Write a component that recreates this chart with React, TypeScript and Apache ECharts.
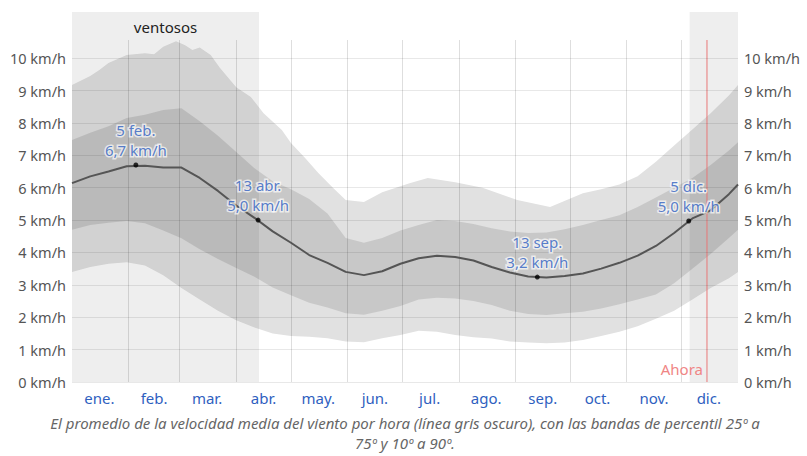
import React, { useEffect, useRef } from "react";
import * as echarts from "echarts";

// ---- data (day of year 0..365, km/h) ----
const days = [0, 10, 20, 30, 40, 50, 60, 70, 80, 90, 100, 110, 120, 130, 140, 150, 160, 170, 180, 190, 200, 210, 220, 230, 240, 250, 260, 270, 280, 290, 300, 310, 320, 330, 340, 350, 360, 365];
const median = [6.14, 6.35, 6.5, 6.66, 6.68, 6.62, 6.62, 6.3, 5.9, 5.45, 5.07, 4.65, 4.3, 3.92, 3.68, 3.4, 3.3, 3.42, 3.65, 3.82, 3.9, 3.86, 3.75, 3.55, 3.38, 3.26, 3.23, 3.27, 3.35, 3.5, 3.68, 3.9, 4.2, 4.6, 5.05, 5.3, 5.8, 6.1];
const p75 = [7.47, 7.7, 7.9, 8.15, 8.25, 8.4, 8.45, 8.05, 7.6, 7.1, 6.6, 6.2, 5.95, 5.65, 5.2, 4.45, 4.3, 4.45, 4.68, 4.85, 5.0, 4.97, 4.88, 4.75, 4.65, 4.6, 4.62, 4.72, 4.85, 5.0, 5.15, 5.4, 5.7, 6.0, 6.3, 6.7, 7.15, 7.4];
const p25 = [4.7, 4.85, 4.92, 4.97, 4.9, 4.68, 4.44, 4.1, 3.8, 3.52, 3.25, 2.92, 2.68, 2.45, 2.3, 2.12, 2.08, 2.2, 2.35, 2.55, 2.6, 2.58, 2.5, 2.38, 2.2, 2.1, 2.07, 2.12, 2.17, 2.27, 2.4, 2.55, 2.7, 3.05, 3.5, 3.95, 4.45, 4.7];
const p10 = [3.4, 3.55, 3.65, 3.7, 3.6, 3.3, 2.9, 2.55, 2.2, 1.91, 1.68, 1.5, 1.42, 1.4, 1.35, 1.25, 1.23, 1.35, 1.45, 1.58, 1.55, 1.45, 1.38, 1.34, 1.25, 1.22, 1.2, 1.22, 1.3, 1.42, 1.55, 1.72, 1.95, 2.2, 2.55, 2.9, 3.2, 3.4];
const p90Days = [0, 10, 15, 20, 30, 40, 45, 50, 57, 62, 66, 70, 76, 81, 90, 98, 105, 115, 120, 128, 135, 143, 150, 160, 170, 185, 195, 210, 225, 244, 262, 280, 290, 300, 310, 320, 330, 340, 350, 360, 365];
const p90 = [9.17, 9.45, 9.63, 9.85, 10.1, 10.15, 10.12, 10.35, 10.52, 10.4, 10.25, 10.33, 10.1, 9.7, 9.1, 8.8, 8.3, 7.78, 7.38, 6.9, 6.45, 6.0, 5.62, 5.56, 5.86, 6.14, 6.3, 6.17, 6.0, 5.62, 5.4, 5.83, 5.95, 6.1, 6.35, 6.8, 7.3, 7.8, 8.3, 8.85, 9.17];

const monthStarts = [31, 59, 90, 120, 151, 181, 212, 243, 273, 304, 334];
const monthMids = [15, 45, 74, 105, 135, 166, 196, 227, 258, 288, 319, 349];
const monthLabels = ["ene.", "feb.", "mar.", "abr.", "may.", "jun.", "jul.", "ago.", "sep.", "oct.", "nov.", "dic."];

const extremeDays = [35, 102, 255, 338];
const extremeValues = [6.7, 5.0, 3.24, 4.97];
const extremeDates = ["5 feb.", "13 abr.", "13 sep.", "5 dic."];

const windyStart = 0;
const windyEnd = 102.5;
const nowBandStart = 338.5;
const nowDay = 348;
const yMax = 10.56;

const caption1 = "El promedio de la velocidad media del viento por hora (línea gris oscuro), con las bandas de percentil 25º a";
const caption2 = "75º y 10º a 90º.";

const FONT = "'Noto Sans', 'DejaVu Sans', sans-serif";
const BLUE = "#2f5fc0";
const NOW_RED = "#e87878";

const pairs = (xs: number[], ys: number[]) => xs.map((x, i) => [x, ys[i]]);

const band = (name: string, xs: number[], ys: number[], color: string) => ({
  name,
  type: "line",
  data: pairs(xs, ys),
  symbol: "none",
  lineStyle: { width: 0 },
  areaStyle: { color, opacity: 1, origin: "start" },
  z: 1,
  silent: true,
});

export default function App() {
  const ref = useRef<HTMLDivElement>(null);
  useEffect(() => {
    if (!ref.current) return;
    const chart = echarts.init(ref.current, null, { renderer: "svg" });
    const yLabel = { formatter: "{value} km/h", color: "#555", fontSize: 14.5, margin: 6, showMaxLabel: false };
    const option: any = {
      animation: false,
      textStyle: { fontFamily: FONT },
      grid: { left: 72, right: 69, top: 40, bottom: 74, containLabel: false, outerBoundsMode: "none" },
      xAxis: {
        type: "value",
        min: 0,
        max: 365,
        z: 5,
        axisLine: { show: false },
        axisTick: { show: false, customValues: monthStarts },
        splitLine: { show: true, lineStyle: { color: "rgba(0,0,0,0.13)", width: 1 } },
        axisLabel: {
          customValues: monthMids,
          formatter: (v: number) => monthLabels[monthMids.indexOf(Math.round(v))] ?? "",
          color: BLUE,
          fontSize: 15,
          margin: 8,
        },
      },
      yAxis: [
        {
          type: "value",
          min: 0,
          max: yMax,
          interval: 1,
          z: 5,
          axisLine: { show: false },
          axisTick: { show: false },
          splitLine: { show: true, showMaxLine: false, lineStyle: { color: "rgba(0,0,0,0.09)", width: 1 } },
          axisLabel: yLabel,
        },
        {
          type: "value",
          min: 0,
          max: yMax,
          interval: 1,
          position: "right",
          axisLine: { show: false },
          axisTick: { show: false },
          splitLine: { show: false },
          axisLabel: yLabel,
        },
      ],
      series: [
        band("p90", p90Days, p90, "#e1e1e1"),
        band("p75", days, p75, "#c8c8c8"),
        band("p25", days, p25, "#e1e1e1"),
        band("p10", days, p10, "#ffffff"),
        {
          name: "overlay",
          type: "line",
          data: [],
          z: 3,
          silent: true,
          markArea: {
            silent: true,
            z: 3,
            itemStyle: { color: "rgba(0,0,0,0.067)" },
            data: [
              [{ xAxis: windyStart }, { xAxis: windyEnd }],
              [{ xAxis: nowBandStart }, { xAxis: 365 }],
            ],
          },
        },
        {
          name: "now",
          type: "line",
          data: [[nowDay, 0], [nowDay, yMax]],
          symbol: "none",
          z: 4,
          silent: true,
          lineStyle: { color: NOW_RED, width: 1 },
        },
        {
          name: "median",
          type: "line",
          data: pairs(days, median),
          symbol: "none",
          lineStyle: { color: "#555", width: 2 },
          z: 6,
        },
        {
          name: "extremes",
          type: "scatter",
          data: pairs(extremeDays, extremeValues),
          symbolSize: 5,
          itemStyle: { color: "#000" },
          z: 7,
          label: {
            show: true,
            position: "top",
            distance: 3,
            formatter: (p: any) =>
              `${extremeDates[p.dataIndex]}\n${extremeValues[p.dataIndex].toFixed(1).replace(".", ",")} km/h`,
            color: BLUE,
            fontSize: 15,
            lineHeight: 20,
            textBorderColor: "rgba(255,255,255,0.85)",
            textBorderWidth: 3,
            fontFamily: FONT,
          },
        },
      ],
    };
    chart.setOption(option);

    const px = (d: number) => chart.convertToPixel({ xAxisIndex: 0 }, d) as number;
    const py = (v: number) => chart.convertToPixel({ yAxisIndex: 0 }, v) as number;
    const top = py(yMax);
    const bottom = py(0);
    const wx0 = px(windyStart);
    const wx1 = px(windyEnd);
    const nx0 = px(nowBandStart);
    const nx1 = px(365);
    const nowX = px(nowDay);

    chart.setOption({
      graphic: [
        { type: "rect", shape: { x: wx0, y: top - 28, width: wx1 - wx0, height: 28 }, style: { fill: "#eeeeee" }, z: 0 },
        { type: "rect", shape: { x: nx0, y: top - 28, width: nx1 - nx0, height: 28 }, style: { fill: "#eeeeee" }, z: 0 },
        {
          type: "text",
          x: (wx0 + wx1) / 2,
          y: top - 13,
          z: 10,
          style: { text: "ventosos", fill: "#222", fontSize: 15, fontFamily: FONT, textAlign: "center", textVerticalAlign: "middle" },
        },
        {
          type: "text",
          x: nowX - 4,
          y: bottom - 13,
          z: 10,
          style: { text: "Ahora", fill: "#f08585", fontSize: 15, fontFamily: FONT, textAlign: "right", textVerticalAlign: "middle" },
        },
        {
          type: "text",
          x: 405,
          y: 423,
          z: 10,
          style: { text: caption1, fill: "#666", fontSize: 15, fontStyle: "italic", fontFamily: FONT, textAlign: "center", textVerticalAlign: "middle" },
        },
        {
          type: "text",
          x: 405,
          y: 443,
          z: 10,
          style: { text: caption2, fill: "#666", fontSize: 15, fontStyle: "italic", fontFamily: FONT, textAlign: "center", textVerticalAlign: "middle" },
        },
      ],
    });

    return () => chart.dispose();
  }, []);
  return <div ref={ref} style={{ position: "absolute", left: 0, top: 0, width: 807, height: 456 }} />;
}
